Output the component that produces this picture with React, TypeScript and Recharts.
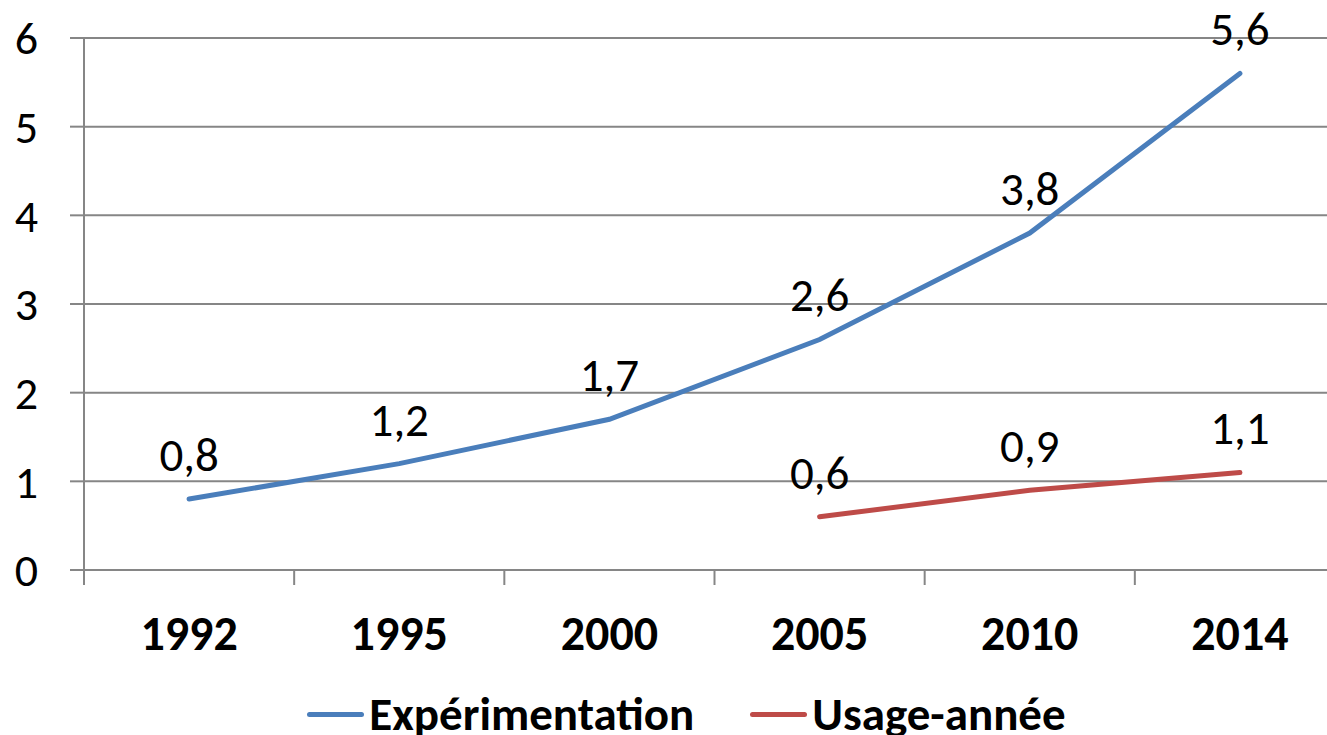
import React from "react"
import { LineChart, Line, XAxis, YAxis, CartesianGrid, Legend, LabelList } from "recharts"

const years = ["1992", "1995", "2000", "2005", "2010", "2014"]
const experimentation = [0.8, 1.2, 1.7, 2.6, 3.8, 5.6]
const usageAnnee = [null, null, null, 0.6, 0.9, 1.1]
const yTicks = [0, 1, 2, 3, 4, 5, 6]

const BLUE = "#4A7EBB"
const RED = "#BE4B48"
const GRID = "#868686"
const FONT = "Carlito, 'Liberation Sans', Arial, sans-serif"

const data = years.map((year, i) => ({
  year,
  exp: experimentation[i],
  usage: usageAnnee[i],
}))

const fmt = (v: number) => String(v).replace(".", ",")

function XTick(props: any) {
  const { x, y, payload } = props
  const half = payload.offset ?? 0
  return (
    <g>
      <line x1={x - half} y1={y} x2={x - half} y2={y + 15} stroke={GRID} strokeWidth={2} />
      <text
        x={x}
        y={y + 63}
        textAnchor="middle"
        dominantBaseline="central"
        fontSize={48}
        fontWeight="bold"
        fill="#000"
      >
        {payload.value}
      </text>
    </g>
  )
}

function ValueLabel(props: any) {
  const { x, y, value } = props
  if (value == null) return null
  return (
    <text x={x} y={y - 44} textAnchor="middle" dominantBaseline="central" fontSize={47} fill="#000">
      {fmt(value)}
    </text>
  )
}

function LegendContent() {
  const items = [
    { label: "Expérimentation", color: BLUE },
    { label: "Usage-année", color: RED },
  ]
  return (
    <div
      style={{
        display: "flex",
        justifyContent: "center",
        alignItems: "center",
        height: 52,
        gap: 56,
        marginLeft: 28,
        transform: "translateY(5px)",
      }}
    >
      {items.map((it) => (
        <div key={it.label} style={{ display: "flex", alignItems: "center" }}>
          <div style={{ width: 57, height: 5, borderRadius: 3, background: it.color, marginRight: 5 }} />
          <span style={{ fontSize: 47, fontWeight: "bold", color: "#000", lineHeight: "52px" }}>{it.label}</span>
        </div>
      ))}
    </div>
  )
}

export default function App() {
  return (
    <div
      style={{
        position: "fixed",
        left: 0,
        top: 0,
        width: 1327,
        height: 735,
        overflow: "hidden",
        background: "#fff",
        fontFamily: FONT,
      }}
    >
      <LineChart width={1345} height={735} data={data} margin={{ top: 38, right: 0, bottom: 0, left: 0 }}>
        <CartesianGrid vertical={false} stroke={GRID} strokeWidth={2} />
        <XAxis
          dataKey="year"
          scale="band"
          axisLine={{ stroke: GRID, strokeWidth: 2 }}
          tickLine={false}
          tickSize={0}
          tickMargin={0}
          height={113}
          tick={<XTick />}
          interval={0}
        />
        <YAxis
          domain={[0, 6]}
          ticks={yTicks}
          width={84}
          axisLine={{ stroke: GRID, strokeWidth: 2 }}
          tickLine={{ stroke: GRID, strokeWidth: 2 }}
          tickSize={14}
          tickMargin={32}
          tick={{ fontSize: 46, fill: "#000" }}
        />
        <Legend verticalAlign="bottom" height={52} content={<LegendContent />} />
        <Line
          type="linear"
          dataKey="exp"
          stroke={BLUE}
          strokeWidth={5}
          strokeLinecap="round"
          dot={false}
          isAnimationActive={false}
        >
          <LabelList dataKey="exp" content={<ValueLabel />} />
        </Line>
        <Line
          type="linear"
          dataKey="usage"
          stroke={RED}
          strokeWidth={5}
          strokeLinecap="round"
          dot={false}
          isAnimationActive={false}
        >
          <LabelList dataKey="usage" content={<ValueLabel />} />
        </Line>
      </LineChart>
    </div>
  )
}
